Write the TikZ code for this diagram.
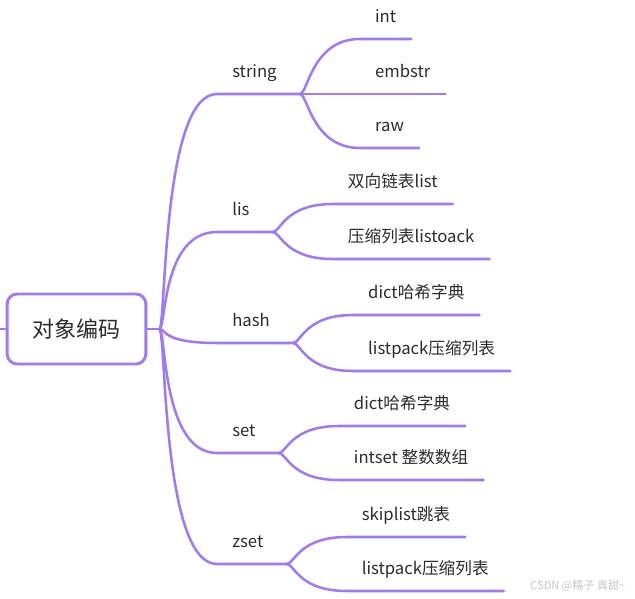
\documentclass[tikz,border=0pt]{standalone}
\usepackage{fontspec}
\setmainfont{Noto Sans CJK SC}
\usetikzlibrary{calc,positioning}
\definecolor{branchline}{HTML}{9F7AF5}
\definecolor{label}{HTML}{2B2B2B}

\begin{document}
\begin{tikzpicture}[x=0.75pt, y=-0.75pt, font=\fontsize{12.5pt}{15pt}\selectfont, text=label,
  link/.style={draw=branchline, line width=1.9pt, line cap=round},
  topic/.style={anchor=south west, inner xsep=11.25pt, inner ysep=9pt, text height=9pt, text depth=3pt}]
  \useasboundingbox (0,0) rectangle (635,599);
  % root
  \node[draw=branchline, line width=2.2pt, rounded corners=7.5pt, minimum width=104pt, minimum height=52.5pt,
    font=\fontsize{16.5pt}{20pt}\selectfont] (root) at (76.5,329) {对象编码};
  \coordinate (stub) at (0,329);
  \coordinate (hub) at ($(root.east)+(12,0)$);
  % types
  \node[topic] (string) at (217,94) {string};
  \node[topic] (lis) at (217,232) {lis};
  \node[topic] (hash) at (217,343) {hash};
  \node[topic] (set) at (217,453) {set};
  \node[topic] (zset) at (217,564) {zset};
  \foreach \t in {string,lis,hash,set,zset}
    \coordinate (\t-fork) at ($(\t.south east)+(8,0)$);
  % encodings
  \node[topic] (int) at ($(string-fork)+(60,-55)$) {int};
  \node[topic] (embstr) at ($(string-fork)+(60,0)$) {embstr};
  \node[topic] (raw) at ($(string-fork)+(60,54)$) {raw};
  \node[topic] (linked) at ($(lis-fork)+(60,-28)$) {双向链表list};
  \node[topic] (ziplist) at ($(lis-fork)+(60,27)$) {压缩列表listoack};
  \node[topic] (hashdict) at ($(hash-fork)+(60,-28)$) {dict哈希字典};
  \node[topic] (hashpack) at ($(hash-fork)+(60,28)$) {listpack压缩列表};
  \node[topic] (setdict) at ($(set-fork)+(60,-27)$) {dict哈希字典};
  \node[topic] (intset) at ($(set-fork)+(60,27)$) {intset 整数数组};
  \node[topic] (skiplist) at ($(zset-fork)+(60,-27)$) {skiplist跳表};
  \node[topic] (zsetpack) at ($(zset-fork)+(60,27)$) {listpack压缩列表};
  % connectors
  \draw[link] (stub) -- (root.west);
  \draw[link] (root.east) -- (hub);
  \foreach \t in {string,lis,hash,set,zset}
    \draw[link] (hub) .. controls ($(hub)+(7,0)$) and ($(hub |- \t.south west)+(2,0)$) .. (\t.south west) -- (\t-fork);
  \foreach \f/\l in {string/int, string/embstr, string/raw, lis/linked, lis/ziplist, hash/hashdict, hash/hashpack,
      set/setdict, set/intset, zset/skiplist, zset/zsetpack}
    \draw[link] (\f-fork) .. controls ($(\f-fork)+(8,0)$) and ($(\f-fork |- \l.south west)+(12,0)$) .. (\l.south west) -- (\l.south east);
  \node[anchor=east, text=gray!45, font=\fontsize{8.3pt}{10pt}\selectfont] (mark) at (630,586) {CSDN @糯子 真甜\textasciitilde};
\end{tikzpicture}
\end{document}
